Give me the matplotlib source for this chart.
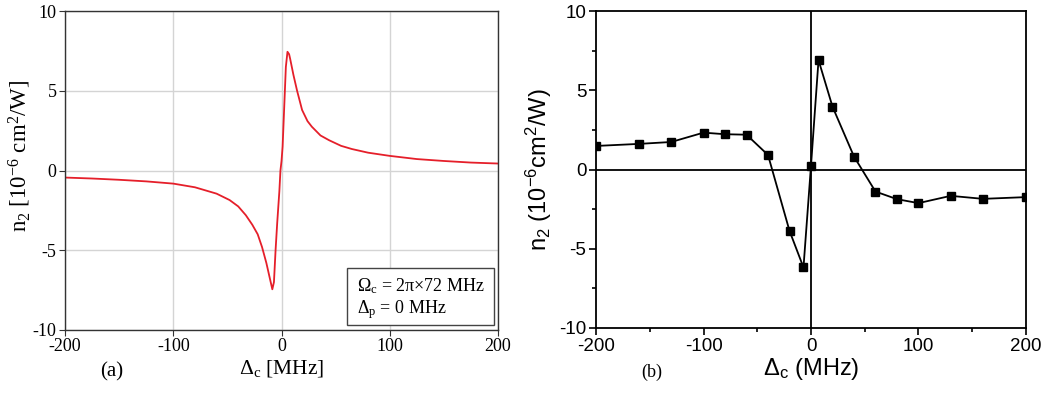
import matplotlib
matplotlib.use("Agg")
import matplotlib.pyplot as plt
from matplotlib.patches import Rectangle
from matplotlib.ticker import MultipleLocator

plt.rcParams['axes.unicode_minus'] = False
plt.rcParams['mathtext.default'] = 'regular'

# (a) theory curve
theory_x = [-200, -175, -150, -125, -100, -80, -60, -48, -40, -33, -27, -22,
            -18, -14, -11, -8.5, -7, -5.5, -4, -2, -1, 0, 1, 2.5, 4, 5.5, 7,
            8, 11, 14.4, 19, 24, 28, 36, 44, 55, 65, 80, 100, 125, 150, 175,
            200]
theory_y = [-0.44, -0.5, -0.58, -0.68, -0.82, -1.05, -1.45, -1.85, -2.25,
            -2.8, -3.4, -4.0, -4.8, -5.8, -6.7, -7.45, -7.0, -5.0, -3.3, -1.3,
            0.0, 0.6, 1.5, 4.0, 6.5, 7.45, 7.3, 7.0, 6.0, 5.0, 3.8, 3.1, 2.75,
            2.2, 1.9, 1.55, 1.35, 1.12, 0.92, 0.72, 0.6, 0.5, 0.44]

# (b) measured points
meas_x = [-200, -160, -130, -100, -80, -60, -40, -20, -7, 0, 7, 20, 40, 60,
          80, 100, 130, 160, 200]
meas_y = [1.49, 1.62, 1.74, 2.33, 2.23, 2.2, 0.92, -3.87, -6.18, 0.25, 6.91,
          3.97, 0.82, -1.39, -1.87, -2.12, -1.66, -1.85, -1.74]

xticks = [-200, -100, 0, 100, 200]
yticks = [-10, -5, 0, 5, 10]

fig = plt.figure(figsize=(10.54, 3.98), dpi=100)

# ---- panel (a)
serif = 'Liberation Serif'
ax1 = fig.add_axes([0.0617, 0.171, 0.4108, 0.801])
ax1.plot(theory_x, theory_y, color='#e51f2a', lw=1.3)
ax1.set_xlim(-200, 200)
ax1.set_ylim(-10, 10)
ax1.set_xticks(xticks)
ax1.set_yticks(yticks)
ax1.grid(True, color='#d4d4d4', lw=1)
ax1.set_axisbelow(True)
for s in ax1.spines.values():
    s.set_color('#333333')
    s.set_linewidth(1)
ax1.tick_params(direction='out', length=4, color='#333333', labelsize=13,
                pad=2)
for lab in ax1.get_xticklabels() + ax1.get_yticklabels():
    lab.set_family(serif)
ax1.set_xlabel('Δ$_c$ [MHz]', family=serif, fontsize=15.5, labelpad=2)
ax1.set_ylabel('n$_2$ [10$^{-6}$ cm$^2$/W]', family=serif, fontsize=16.5)
ax1.yaxis.set_label_coords(-0.073, 0.545)

# parameter box
ax1.add_patch(Rectangle((0.651, 0.016), 0.340, 0.178, transform=ax1.transAxes,
                        fc='white', ec='#444444', lw=1, zorder=5))
ax1.text(0.674, 0.137, 'Ω$_c$ = 2π×72 MHz', transform=ax1.transAxes,
         ha='left', va='center', family=serif, fontsize=13, zorder=6)
ax1.text(0.674, 0.063, 'Δ$_p$ = 0 MHz', transform=ax1.transAxes,
         ha='left', va='center', family=serif, fontsize=13, zorder=6)
fig.text(112 / 1054, 1 - 372 / 398, '(a)', family=serif, fontsize=15,
         ha='center', va='center')

# ---- panel (b)
sans = 'Liberation Sans'
ax2 = fig.add_axes([0.5655, 0.176, 0.4079, 0.796])
ax2.axhline(0, color='black', lw=1.3)
ax2.axvline(0, color='black', lw=1.3)
ax2.plot(meas_x, meas_y, color='black', lw=1.3, marker='s', markersize=5.5)
ax2.set_xlim(-200, 200)
ax2.set_ylim(-10, 10)
ax2.set_xticks(xticks)
ax2.set_yticks(yticks)
ax2.xaxis.set_minor_locator(MultipleLocator(50))
ax2.yaxis.set_minor_locator(MultipleLocator(2.5))
for s in ax2.spines.values():
    s.set_color('black')
    s.set_linewidth(1.3)
ax2.tick_params(which='major', direction='out', length=5, width=1.2,
                labelsize=13.5, pad=2)
ax2.tick_params(which='minor', direction='out', length=3, width=1.2)
for lab in ax2.get_xticklabels() + ax2.get_yticklabels():
    lab.set_family(sans)
ax2.set_xlabel('Δ$_c$ (MHz)', family=sans, fontsize=17, labelpad=1)
ax2.set_ylabel('n$_2$ (10$^{-6}$cm$^2$/W)', family=sans, fontsize=17,
               labelpad=4)
fig.text(652 / 1054, 1 - 372 / 398, '(b)', family=serif, fontsize=13,
         ha='center', va='center')

fig.savefig('out.png', dpi=100)
